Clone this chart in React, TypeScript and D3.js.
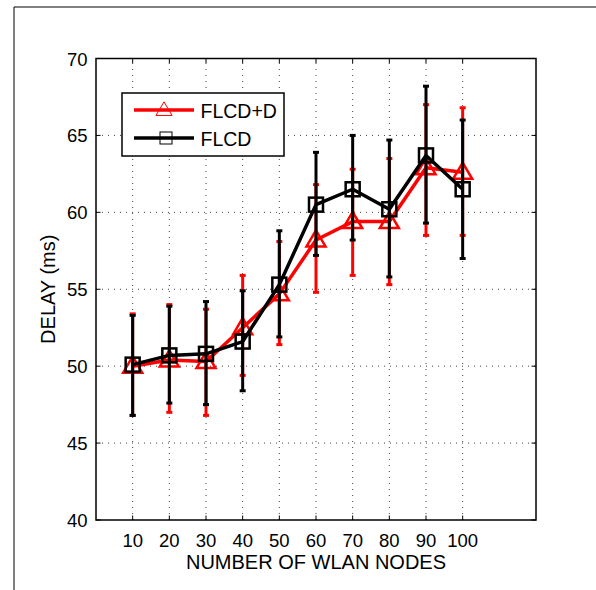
import React from "react";
import * as d3 from "d3";

// nodes on the x axis
const nodes = [10, 20, 30, 40, 50, 60, 70, 80, 90, 100];

// FLCD+D (red, triangles)
const flcdDMean = [50.0, 50.4, 50.3, 52.5, 54.7, 58.2, 59.4, 59.4, 62.9, 62.6];
const flcdDLow = [46.8, 47.0, 46.8, 49.4, 51.4, 54.8, 55.9, 55.3, 58.5, 58.5];
const flcdDHigh = [53.4, 54.0, 53.7, 55.9, 58.1, 61.8, 62.8, 63.5, 67.0, 66.8];

// FLCD (black, squares)
const flcdMean = [50.1, 50.7, 50.8, 51.6, 55.3, 60.5, 61.5, 60.2, 63.7, 61.5];
const flcdLow = [46.8, 47.6, 47.5, 48.4, 51.9, 57.2, 58.2, 55.8, 59.3, 57.0];
const flcdHigh = [53.3, 53.9, 54.2, 54.9, 58.8, 63.9, 65.0, 64.7, 68.2, 66.0];

const yTicks = [40, 45, 50, 55, 60, 65, 70];

const W = 596;
const H = 590;
const margin = { left: 96, right: 60, top: 58.5, bottom: 70 };
const font = "Liberation Sans, Arial, Helvetica, sans-serif";

export default function App() {
  const x = d3.scaleLinear().domain([0, 120]).range([margin.left, W - margin.right]);
  const y = d3.scaleLinear().domain([40, 70]).range([H - margin.bottom, margin.top]);
  const [x0, x1] = x.range();
  const [y0, y1] = y.range();
  const tickLen = 4.5;

  const line = d3
    .line<number>()
    .x((_, i) => x(nodes[i]))
    .y((d) => y(d));

  const triangle = (cx: number, cy: number, s: number) => {
    const h = s * 0.85;
    return `M${cx},${cy - h * 0.6}L${cx + s / 2},${cy + h * 0.4}L${cx - s / 2},${cy + h * 0.4}Z`;
  };

  const series = [
    { name: "FLCD+D", color: "#ff0000", mean: flcdDMean, low: flcdDLow, high: flcdDHigh, marker: "tri" },
    { name: "FLCD", color: "#000000", mean: flcdMean, low: flcdLow, high: flcdHigh, marker: "sq" },
  ];

  const marker = (m: string, cx: number, cy: number, color: string, key: string) =>
    m === "tri" ? (
      <path key={key} d={triangle(cx, cy, 19)} fill="none" stroke={color} strokeWidth={2.5} />
    ) : (
      <rect key={key} x={cx - 7} y={cy - 7} width={14} height={14} fill="none" stroke={color} strokeWidth={2.5} />
    );

  return (
    <div style={{ position: "absolute", left: 0, top: 0 }}>
      <svg width={W} height={H} style={{ display: "block", background: "#fff" }}>
        {/* outer figure frame */}
        <line x1={14} x2={W} y1={7} y2={7} stroke="#000" strokeWidth={1} />
        <line x1={14} x2={14} y1={7} y2={H} stroke="#000" strokeWidth={1} />

        {/* grid */}
        <g stroke="#444" strokeWidth={1} strokeDasharray="1,5">
          {nodes.map((n) => (
            <line key={"gx" + n} x1={x(n)} x2={x(n)} y1={y0} y2={y1} />
          ))}
          {yTicks.slice(1, -1).map((t) => (
            <line key={"gy" + t} x1={x0} x2={x1} y1={y(t)} y2={y(t)} />
          ))}
        </g>

        {/* ticks */}
        <g stroke="#000" strokeWidth={1}>
          {nodes.map((n) => (
            <g key={"tx" + n}>
              <line x1={x(n)} x2={x(n)} y1={y0} y2={y0 - tickLen} />
              <line x1={x(n)} x2={x(n)} y1={y1} y2={y1 + tickLen} />
            </g>
          ))}
          {yTicks.map((t) => (
            <g key={"ty" + t}>
              <line x1={x0} x2={x0 + tickLen} y1={y(t)} y2={y(t)} />
              <line x1={x1} x2={x1 - tickLen} y1={y(t)} y2={y(t)} />
            </g>
          ))}
        </g>

        {/* series */}
        {series.map((s) => (
          <g key={s.name}>
            {nodes.map((n, i) => (
              <g key={n} stroke={s.color} strokeWidth={3}>
                <line x1={x(n)} x2={x(n)} y1={y(s.low[i])} y2={y(s.high[i])} />
                <line x1={x(n) - 3} x2={x(n) + 3} y1={y(s.low[i])} y2={y(s.low[i])} />
                <line x1={x(n) - 3} x2={x(n) + 3} y1={y(s.high[i])} y2={y(s.high[i])} />
              </g>
            ))}
            <path d={line(s.mean) || ""} fill="none" stroke={s.color} strokeWidth={3.5} strokeLinejoin="round" />
            {nodes.map((n, i) => marker(s.marker, x(n), y(s.mean[i]), s.color, "m" + n))}
          </g>
        ))}

        {/* axes box */}
        <rect x={x0} y={y1} width={x1 - x0} height={y0 - y1} fill="none" stroke="#000" strokeWidth={1.5} />

        {/* tick labels */}
        <g fontFamily={font} fontSize={18.5} fill="#000">
          {nodes.map((n) => (
            <text key={"lx" + n} x={x(n)} y={y0 + 26.5} textAnchor="middle">
              {n}
            </text>
          ))}
          {yTicks.map((t) => (
            <text key={"ly" + t} x={x0 - 8.5} y={y(t) + 7} textAnchor="end">
              {t}
            </text>
          ))}
        </g>

        {/* axis labels */}
        <text x={(x0 + x1) / 2} y={569} textAnchor="middle" fontFamily={font} fontSize={20}>
          NUMBER OF WLAN NODES
        </text>
        <text
          transform={`translate(54.5, ${(y0 + y1) / 2}) rotate(-90)`}
          textAnchor="middle"
          fontFamily={font}
          fontSize={20}
        >
          DELAY (ms)
        </text>

        {/* legend */}
        <g>
          <rect x={122} y={93} width={162} height={63} fill="#fff" stroke="#000" strokeWidth={1.5} />
          {series.map((s, i) => {
            const ly = 110 + i * 28;
            return (
              <g key={"lg" + s.name}>
                <line x1={134} x2={194} y1={ly} y2={ly} stroke={s.color} strokeWidth={3.5} />
                {s.marker === "tri" ? (
                  <path d={triangle(164, ly, 16)} fill="none" stroke={s.color} strokeWidth={1} />
                ) : (
                  <rect x={160} y={ly - 6} width={12} height={12} fill="none" stroke={s.color} strokeWidth={1} />
                )}
                <text x={200.5} y={ly + 7.5} fontFamily={font} fontSize={19.5}>
                  {s.name}
                </text>
              </g>
            );
          })}
        </g>
      </svg>
    </div>
  );
}
